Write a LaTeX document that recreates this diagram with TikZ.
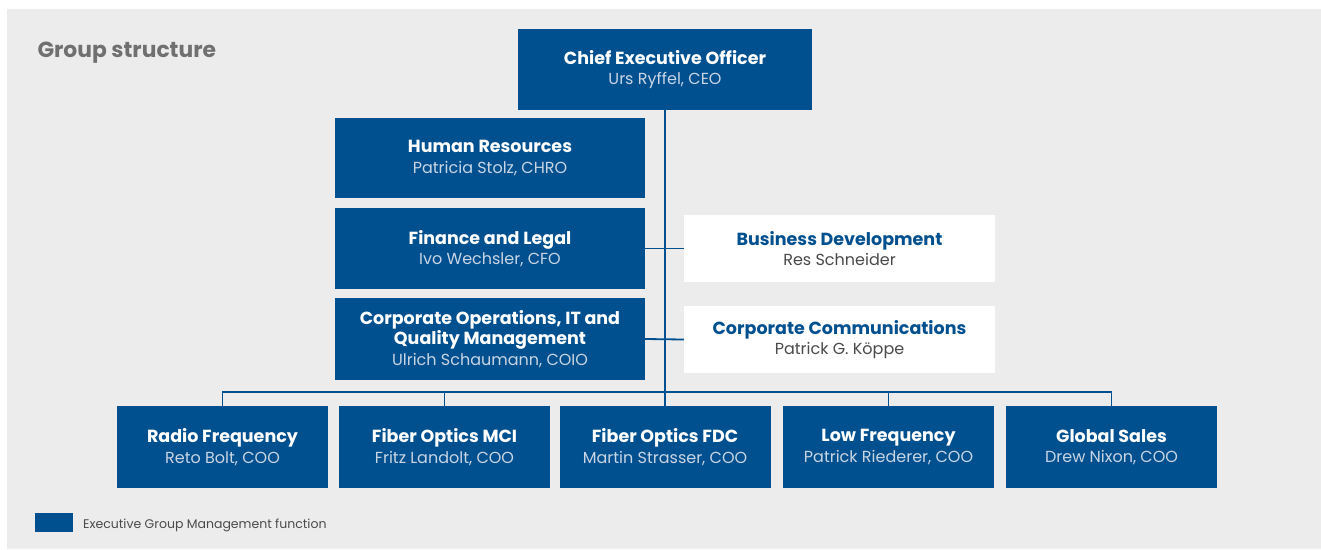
\documentclass[tikz,border=0pt]{standalone}
\usepackage{fontspec}
\setmainfont{Poppins}
\usetikzlibrary{positioning}

\definecolor{corpblue}{HTML}{00508F}
\definecolor{namegray}{HTML}{C8D5E4}
\definecolor{bggray}{HTML}{ECECEC}
\definecolor{titlegray}{HTML}{707070}
\definecolor{textgray}{HTML}{4A4A4A}

\tikzset{
	unit/.style={fill=corpblue, text=white, align=center, inner sep=0pt,
		font=\fontsize{17.5}{20.5}\selectfont},
	staff/.style={fill=white, text=corpblue, align=center, inner sep=0pt,
		font=\fontsize{17.5}{20.5}\selectfont},
	link/.style={-, draw=corpblue, line width=1.8pt},
}
\newcommand{\who}[3]{\bfseries #1\\\fontsize{16}{20.5}\selectfont\mdseries\color{#3}#2}

\begin{document}
\begin{tikzpicture}[x=1pt, y=-1pt]

	% === FRAME === (((
	\useasboundingbox (0,0) rectangle (1321,549);
	\fill [bggray] (7,9) rectangle (1321,549);
	\node [anchor=base west, text=titlegray, font=\fontsize{21.8}{24}\selectfont\bfseries]
		(heading) at (34,57) {Group structure};
	% )))

	% === TOP === (((
	\node [unit, minimum width=294pt, minimum height=81pt] (ceo) at (665,69.5)
		{\who{Chief Executive Officer}{Urs Ryffel, CEO}{namegray}};
	\node [unit, minimum width=310pt, minimum height=80pt] (hr) at (490,158)
		{\who{Human Resources}{Patricia Stolz, CHRO}{namegray}};
	\node [unit, minimum width=310pt, minimum height=81pt] (fin) at (490,248.5)
		{\who{Finance and Legal}{Ivo Wechsler, CFO}{namegray}};
	\node [unit, minimum width=310pt, minimum height=82pt] (ops) at (490,339)
		{\who{Corporate Operations, IT and\\\bfseries Quality Management}{Ulrich Schaumann, COIO}{namegray}};
	\node [staff, minimum width=311pt, minimum height=67pt] (bizdev) at (839.5,248.5)
		{\who{Business Development}{Res Schneider}{textgray}};
	\node [staff, minimum width=311pt, minimum height=67pt] (comm) at (839.5,339.5)
		{\who{Corporate Communications}{Patrick G. Köppe}{textgray}};
	% )))

	% === DIVISIONS === (((
	\foreach \x/\id/\head/\name in {
		222.5/rf/Radio Frequency/{Reto Bolt, COO},
		444.5/mci/Fiber Optics MCI/{Fritz Landolt, COO},
		665/fdc/Fiber Optics FDC/{Martin Strasser, COO},
		888.5/lf/Low Frequency/{Patrick Riederer, COO},
		1111.5/gs/Global Sales/{Drew Nixon, COO}}
		\node [unit, minimum width=211pt, minimum height=82pt] (\id) at (\x,447)
			{\who{\head}{\name}{namegray}};
	% )))

	% === LINES === (((
	\draw [link] (ceo.south) -- (fdc.north);
	\draw [link] (fin.east) -- (bizdev.west);
	\draw [link] (ops.east) -- (comm.west);
	\draw [link] (rf.north) -- ++(0,-14) -| (gs.north);
	\foreach \id in {mci,lf} \draw [link] (\id.north) -- ++(0,-14);
	% )))

	% === LEGEND === (((
	\node [fill=corpblue, minimum width=38pt, minimum height=19pt, inner sep=0pt]
		(key) at (54,522.5) {};
	\node [anchor=base west, inner sep=0pt, text=textgray,
		font=\fontsize{12.5}{14}\selectfont] (keytext) at (83,528.5)
		{Executive Group Management function};
	% )))

\end{tikzpicture}
\end{document}
